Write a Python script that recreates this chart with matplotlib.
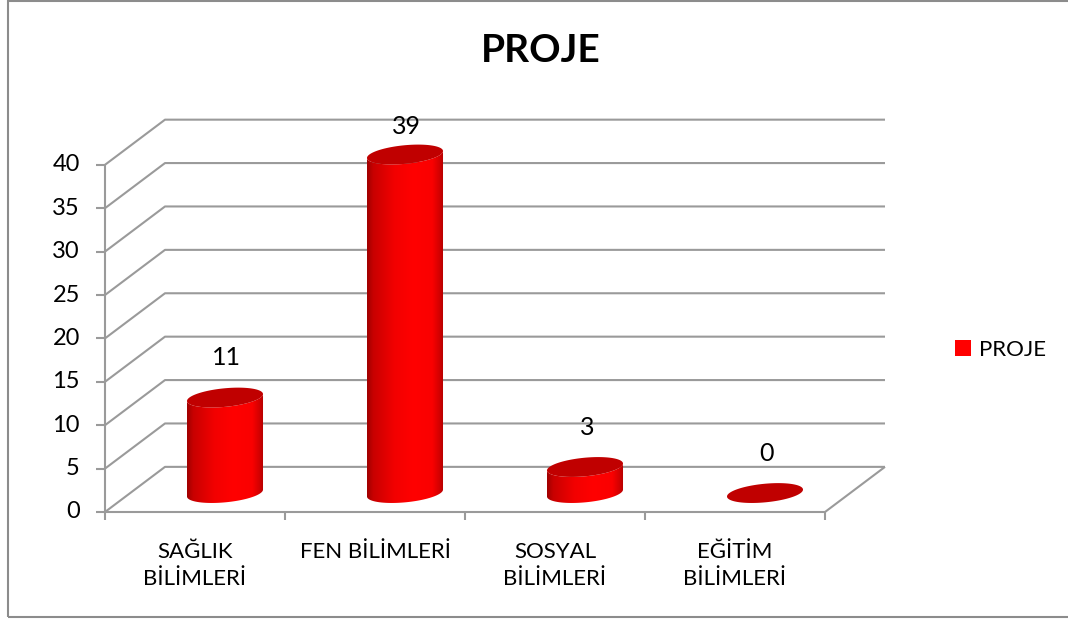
import numpy as np
import matplotlib.pyplot as plt
from matplotlib.patches import Polygon, Rectangle, Patch
from matplotlib.colors import LinearSegmentedColormap

# datos del grafico
categories = ["SAĞLIK\nBİLİMLERİ", "FEN BİLİMLERİ", "SOSYAL\nBİLİMLERİ", "EĞİTİM\nBİLİMLERİ"]
values = [11, 39, 3, 0]
yticks = [0, 5, 10, 15, 20, 25, 30, 35, 40]
series = "PROJE"

plt.rcParams['font.family'] = ['Lato', 'DejaVu Sans']

W, H = 1068, 621
fig = plt.figure(figsize=(W / 100, H / 100), dpi=100)
ax = fig.add_axes([0, 0, 1, 1])
ax.set_axis_off()

# escala: px por categoria y px por unidad, origen en pixeles
px_x, px_y = 180.0, 8.68
x0, y0 = 105, 512

# desplazamiento de profundidad (pared del fondo)
dx, dy = 1 / 3, 5.2
n = len(categories)
grid = dict(color='#9a9a9a', lw=1.5, solid_capstyle='butt', zorder=1)

for v in yticks:
    ax.plot([0, dx, n + dx], [v, v + dy, v + dy], **grid)
    ax.plot([-0.05, 0], [v, v], **grid)
    ax.text(-0.14, v, str(v), ha='right', va='center', fontsize=17)
ax.plot([0, 0], [0, yticks[-1]], **grid)
ax.plot([0, n, n + dx], [0, 0, dy], **grid)
for i in range(n + 1):
    ax.plot([i, i], [0, -0.9], **grid)

for i, c in enumerate(categories):
    ax.text(i + 0.5, -3.4, c, ha='center', va='top', fontsize=16, linespacing=1.48)

# cilindros
cmap = LinearSegmentedColormap.from_list('cyl', [
    (0.0, '#a00000'), (0.08, '#c80000'), (0.35, '#f20000'), (0.6, '#ff0000'),
    (0.85, '#fa0000'), (0.95, '#d00000'), (1.0, '#b00000')])
rx = 0.198
f = 0.22
sx, sy = f * dx, f * dy
base = 0.42 * dy
t = np.linspace(0, 2 * np.pi, 200)
tR = np.arctan2(sx, rx)
front = np.linspace(tR + np.pi, tR + 2 * np.pi, 100)
half = np.hypot(rx, sx)


def ring(cx, cy, th):
    return np.column_stack([cx + rx * np.cos(th) + sx * np.sin(th), cy + sy * np.sin(th)])


for i, v in enumerate(values):
    cx = i + 0.5 + 0.5 * dx
    if v > 0:
        body = np.vstack([ring(cx, base, front), ring(cx, base + v, front[::-1])])
        poly = Polygon(body, facecolor='none', edgecolor='none', zorder=3)
        ax.add_patch(poly)
        img = ax.imshow(np.linspace(0, 1, 256)[None, :], cmap=cmap, aspect='auto',
                        extent=[cx - half, cx + half, base - sy - 1, base + v + sy + 1],
                        interpolation='bilinear', zorder=3)
        img.set_clip_path(poly)
    ax.add_patch(Polygon(ring(cx, base + v, t), facecolor='#c00000', edgecolor='none', zorder=4))
    ax.text(cx + 0.01, min(base + v + 4.6, yticks[-1] + dy - 0.8), str(v),
            ha='center', va='center', fontsize=18, zorder=5)

ax.set_xlim(-x0 / px_x, (W - x0) / px_x)
ax.set_ylim(-(H - y0) / px_y, y0 / px_y)

# leyenda
ax.legend(handles=[Patch(facecolor='#ff0000', label=series)], loc='center left',
          bbox_to_anchor=(955 / W, 1 - 350 / H), frameon=False, fontsize=16,
          handlelength=0.7, handleheight=0.7, handletextpad=0.4, borderpad=0,
          borderaxespad=0)

# titulo y borde
fig.text(541 / W, 1 - 50 / H, 'PROJE', ha='center', va='center', fontsize=28, fontweight='bold')
ax.add_patch(Rectangle((8 / W, 4 / H), 1.0, 616 / H, transform=ax.transAxes, fill=False,
                       edgecolor='#8c8c8c', lw=1.5, clip_on=False))

fig.savefig('out.png', dpi=100)
